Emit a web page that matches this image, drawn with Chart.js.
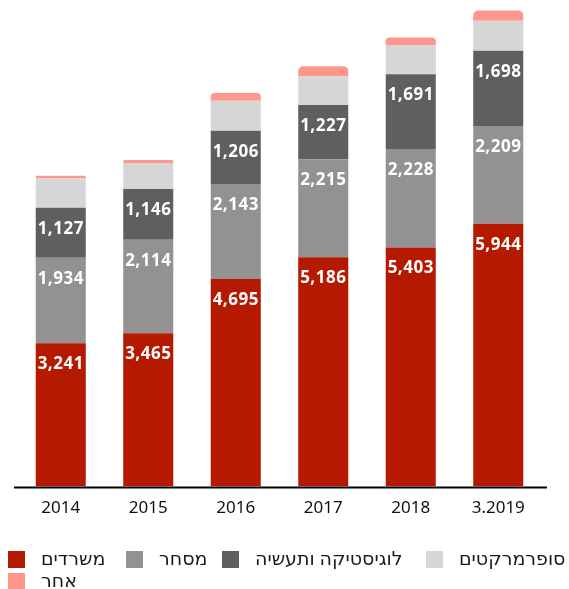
<!DOCTYPE html>
<html>
<head>
<meta charset="utf-8">
<script src="https://cdn.jsdelivr.net/npm/chart.js@4"></script>
<style>
  html, body { margin: 0; padding: 0; background: #fff; }
  #wrap { width: 569px; height: 589px; }
</style>
</head>
<body>
<div id="wrap"><canvas id="barChart" width="569" height="589"></canvas></div>
<script>
const years = ['2014', '2015', '2016', '2017', '2018', '3.2019'];
const offices = [3241, 3465, 4695, 5186, 5403, 5944];
const retail = [1934, 2114, 2143, 2215, 2228, 2209];
const logistics = [1127, 1146, 1206, 1227, 1691, 1698];
const supermarkets = [667, 588, 680, 650, 663, 680];
const other = [57, 68, 174, 226, 167, 233];

const FONT = '"Noto Sans", "DejaVu Sans", sans-serif';

// numbers near the top of the first three series
const segmentLabels = {
    id: 'segmentLabels',
    afterDatasetsDraw(chart) {
        const ctx = chart.ctx;
        ctx.save();
        ctx.fillStyle = '#fff';
        ctx.font = 'bold 17px ' + FONT;
        ctx.letterSpacing = '0.5px';
        ctx.textAlign = 'center';
        ctx.textBaseline = 'middle';
        [0, 1, 2].forEach(i => {
            chart.getDatasetMeta(i).data.forEach((bar, j) => {
                const v = chart.data.datasets[i].data[j];
                ctx.fillText(v.toLocaleString('en-US'), bar.x, bar.y + 21);
            });
        });
        ctx.restore();
    }
};

// black baseline under the bars
const baseLine = {
    id: 'baseLine',
    afterDatasetsDraw(chart) {
        const ctx = chart.ctx;
        const y = chart.scales.y.getPixelForValue(0);
        ctx.save();
        ctx.strokeStyle = '#000';
        ctx.lineWidth = 2;
        ctx.beginPath();
        ctx.moveTo(14, y + 1);
        ctx.lineTo(547, y + 1);
        ctx.stroke();
        ctx.restore();
    }
};

// legend: box on the left of each label, two rows
const legendSlots = [[8, 560], [126, 560], [222, 560], [426, 560], [8, 582]];
const bottomLegend = {
    id: 'bottomLegend',
    afterDraw(chart) {
        const ctx = chart.ctx;
        ctx.save();
        ctx.font = '19px ' + FONT;
        ctx.textBaseline = 'middle';
        ctx.textAlign = 'left';
        chart.data.datasets.forEach((ds, i) => {
            const [x, y] = legendSlots[i];
            ctx.fillStyle = ds.backgroundColor;
            ctx.fillRect(x, y - 9, 17, 17);
            ctx.fillStyle = '#1a1a1a';
            ctx.fillText(ds.label, x + 33, y);
        });
        ctx.restore();
    }
};

const ctxBar = document.getElementById('barChart').getContext('2d');
new Chart(ctxBar, {
    type: 'bar',
    data: {
        labels: years,
        datasets: [
            { label: 'משרדים', data: offices, backgroundColor: '#b51a00' },
            { label: 'מסחר', data: retail, backgroundColor: '#929292' },
            { label: 'לוגיסטיקה ותעשיה', data: logistics, backgroundColor: '#5f5f5f' },
            { label: 'סופרמרקטים', data: supermarkets, backgroundColor: '#d6d6d6' },
            {
                label: 'אחר', data: other, backgroundColor: '#ff978c',
                borderRadius: { topLeft: 5, topRight: 5, bottomLeft: 0, bottomRight: 0 },
                borderSkipped: false
            }
        ]
    },
    options: {
        responsive: false,
        animation: false,
        devicePixelRatio: 1,
        layout: { padding: { left: 17, right: 27, top: 0, bottom: 60 } },
        datasets: {
            bar: { barPercentage: 0.572, categoryPercentage: 1 }
        },
        scales: {
            x: {
                stacked: true,
                grid: { display: false, drawTicks: false },
                border: { display: false },
                ticks: {
                    color: '#111',
                    padding: 11,
                    font: { family: FONT, size: 17 }
                }
            },
            y: {
                stacked: true,
                display: false,
                min: 0,
                max: 11000
            }
        },
        plugins: {
            tooltip: { enabled: false },
            legend: { display: false }
        }
    },
    plugins: [segmentLabels, baseLine, bottomLegend]
});
</script>
</body>
</html>
